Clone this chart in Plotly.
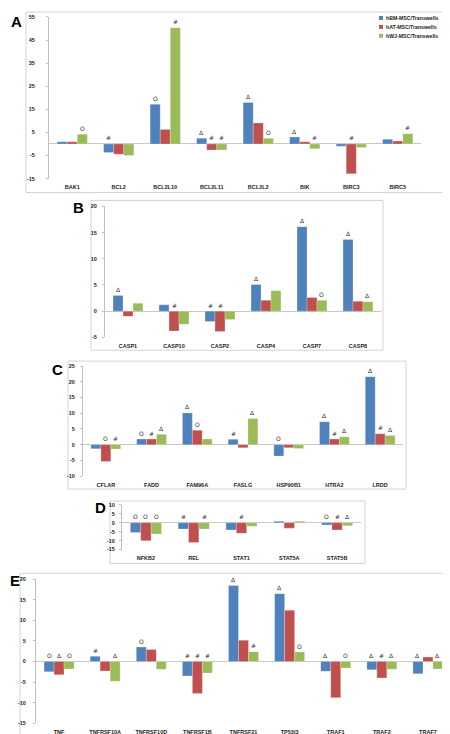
import plotly.graph_objects as go

series_names = ["hBM-MSC/Transwells", "hAT-MSC/Transwells", "hWJ-MSC/Transwells"]
series_colors = ["#4F81BD", "#C0504D", "#9BBB59"]

# Panel A
a_genes = ["BAK1", "BCL2", "BCL2L10", "BCL2L11", "BCL2L2", "BIK", "BIRC3", "BIRC5"]
a_bm = [1.0, -3.7, 17.2, 2.5, 18.0, 3.0, -1.0, 2.0]
a_at = [1.0, -4.4, 6.3, -2.6, 9.1, 1.0, -12.9, 1.3]
a_wj = [4.2, -5.0, 50.3, -2.6, 2.5, -2.1, -1.5, 4.4]
a_marks = [["", "", "O"], ["#", "", ""], ["O", "", "#"], ["Δ", "#", "#"],
           ["Δ", "", "O"], ["Δ", "", "#"], ["", "#", ""], ["", "", "#"]]
a_ticks = [-15, -5, 5, 15, 25, 35, 45, 55]

# Panel B
b_genes = ["CASP1", "CASP10", "CASP2", "CASP4", "CASP7", "CASP8"]
b_bm = [3.0, 1.2, -2.0, 5.1, 16.1, 13.7]
b_at = [-1.0, -3.8, -3.9, 2.1, 2.6, 1.9]
b_wj = [1.5, -2.5, -1.6, 3.9, 2.1, 1.8]
b_marks = [["Δ", "", ""], ["", "#", ""], ["#", "#", ""], ["Δ", "", ""],
           ["Δ", "", "O"], ["Δ", "", "Δ"]]
b_ticks = [-5, 0, 5, 10, 15, 20]

# Panel C
c_genes = ["CFLAR", "FADD", "FAM96A", "FASLG", "HSP90B1", "HTRA2", "LRDD"]
c_bm = [-1.3, 1.8, 10.1, 1.7, -3.6, 7.3, 21.6]
c_at = [-5.3, 1.8, 4.6, -1.0, -1.0, 1.8, 3.5]
c_wj = [-1.4, 3.3, 1.8, 8.3, -1.2, 2.5, 2.9]
c_marks = [["", "O", "#"], ["O", "#", "Δ"], ["Δ", "O", ""], ["#", "", "Δ"],
           ["O", "", ""], ["Δ", "#", "Δ"], ["Δ", "#", "Δ"]]
c_ticks = [-10, -5, 0, 5, 10, 15, 20, 25]

# Panel D
d_genes = ["NFKB2", "REL", "STAT1", "STAT5A", "STAT5B"]
d_bm = [-5.5, -3.5, -4.0, 0.8, -1.2]
d_at = [-10.0, -11.0, -5.8, -3.0, -4.0]
d_wj = [-6.3, -3.5, -2.0, 0.8, -1.7]
d_marks = [["O", "O", "O"], ["#", "", "#"], ["", "#", ""], ["", "", ""], ["O", "#", "Δ"]]
d_ticks = [-15, -10, -5, 0, 5, 10]

# Panel E
e_genes = ["TNF", "TNFRSF10A", "TNFRSF10D", "TNFRSF1B", "TNFRSF21", "TP53I3", "TRAF1", "TRAF2", "TRAF7"]
e_bm = [-2.5, 1.3, 3.5, -3.5, 18.5, 16.5, -2.4, -2.0, -3.0]
e_at = [-3.2, -2.3, 2.9, -7.8, 5.2, 12.5, -8.8, -4.0, 1.1]
e_wj = [-1.8, -4.8, -1.9, -2.8, 2.4, 2.3, -1.6, -1.9, -1.8]
e_marks = [["O", "Δ", "O"], ["#", "", "Δ"], ["O", "", ""], ["#", "#", "#"],
           ["Δ", "", "#"], ["Δ", "", "O"], ["Δ", "", "O"], ["Δ", "#", "Δ"], ["Δ", "", "Δ"]]
e_ticks = [-15, -10, -5, 0, 5, 10, 15, 20]

W, H = 450, 734
BARGAP = 0.35

def px(x):
    return x / W

def py(y):
    return 1 - y / H

# layout geometry (pixels): plot x0,x1,y_top,y_bottom ; box ; letter pos
panels = [
    dict(letter="A", genes=a_genes, vals=[a_bm, a_at, a_wj], marks=a_marks, ticks=a_ticks,
         rng=[-15, 55], plot=(41, 413, 6, 169), box=(18, 1, 447, 183), lpos=(8, 11), standoff=10),
    dict(letter="B", genes=b_genes, vals=[b_bm, b_at, b_wj], marks=b_marks, ticks=b_ticks,
         rng=[-5, 20], plot=(97, 373, 197, 329), box=(83, 191, 375, 342), lpos=(70, 198), standoff=4),
    dict(letter="C", genes=c_genes, vals=[c_bm, c_at, c_wj], marks=c_marks, ticks=c_ticks,
         rng=[-10, 25], plot=(75, 395, 358, 469), box=(60, 353, 398, 482), lpos=(49, 361), standoff=4),
    dict(letter="D", genes=d_genes, vals=[d_bm, d_at, d_wj], marks=d_marks, ticks=d_ticks,
         rng=[-15, 10], plot=(114, 353, 498, 543), box=(102, 494, 357, 557), lpos=(92, 501), standoff=3),
    dict(letter="E", genes=e_genes, vals=[e_bm, e_at, e_wj], marks=e_marks, ticks=e_ticks,
         rng=[-15, 20], plot=(28, 443, 573, 718), box=(12, 567, 447, 732), lpos=(7, 574), standoff=6),
]

fig = go.Figure()
shapes = []
annotations = []
layout_axes = {}
tickfont = dict(family="Liberation Sans", size=5.5, color="#222222", weight="bold")
bw = (1 - BARGAP) / 3

for i, p in enumerate(panels):
    n = "" if i == 0 else str(i + 1)
    xa, ya = "x" + n, "y" + n
    for s in range(3):
        fig.add_trace(go.Bar(
            x=p["genes"], y=p["vals"][s], name=series_names[s],
            marker=dict(color=series_colors[s], line=dict(width=0.4, color="rgba(255,255,255,0.6)")),
            xaxis=xa, yaxis=ya, showlegend=False,
        ))
        # significance markers
        for j, g in enumerate(p["genes"]):
            m = p["marks"][j][s]
            if m:
                v = p["vals"][s][j]
                annotations.append(dict(
                    x=j + (s - 1) * bw, y=max(v, 0), xref=xa, yref=ya,
                    text=m, showarrow=False, yanchor="bottom", yshift=0.5,
                    font=dict(family="DejaVu Sans", size=6, color="#303030"),
                ))
    x0, x1, yt, yb = p["plot"]
    layout_axes["xaxis" + n] = dict(
        domain=[px(x0), px(x1)], anchor=ya, type="category", range=[-0.5, len(p["genes"]) - 0.5],
        showline=False, ticks="", tickfont=tickfont, showgrid=False, zeroline=False,
        ticklabelstandoff=4, tickangle=0, fixedrange=True,
    )
    layout_axes["yaxis" + n] = dict(
        domain=[py(yb), py(yt)], anchor=xa, range=p["rng"],
        tickvals=p["ticks"], ticktext=[str(t) for t in p["ticks"]],
        showline=True, linecolor="#bfbfbf", linewidth=1,
        ticks="outside", ticklen=2, tickcolor="#bfbfbf",
        tickfont=tickfont, showgrid=False,
        zeroline=True, zerolinecolor="#c8c8c8", zerolinewidth=1,
        ticklabelstandoff=p["standoff"], fixedrange=True,
    )
    bx0, by0, bx1, by1 = p["box"]
    shapes.append(dict(type="rect", xref="paper", yref="paper",
                       x0=px(bx0), x1=px(bx1), y0=py(by1), y1=py(by0),
                       line=dict(color="#d4d4d4", width=1), layer="below"))
    lx, ly = p["lpos"]
    annotations.append(dict(x=px(lx), y=py(ly), xref="paper", yref="paper", text=p["letter"],
                            showarrow=False, xanchor="center", yanchor="middle",
                            font=dict(family="Liberation Sans", size=15, color="#000000", weight="bold")))

# compact legend (Excel-style) in panel A
for s in range(3):
    yc = 7 + 9 * s
    shapes.append(dict(type="rect", xref="paper", yref="paper",
                       x0=px(371), x1=px(375), y0=py(yc + 2), y1=py(yc - 2),
                       fillcolor=series_colors[s], line=dict(width=0)))
    annotations.append(dict(x=px(376), y=py(yc), xref="paper", yref="paper",
                            text=series_names[s], showarrow=False,
                            xanchor="left", yanchor="middle", xshift=0,
                            font=dict(family="Liberation Sans", size=5.2, color="#222222", weight="bold")))

fig.update_layout(
    width=W, height=H, margin=dict(l=0, r=0, t=0, b=0),
    paper_bgcolor="white", plot_bgcolor="white",
    barmode="group", bargap=BARGAP, bargroupgap=0,
    shapes=shapes, annotations=annotations, showlegend=False,
    **layout_axes,
)

fig.write_html("out.html")
